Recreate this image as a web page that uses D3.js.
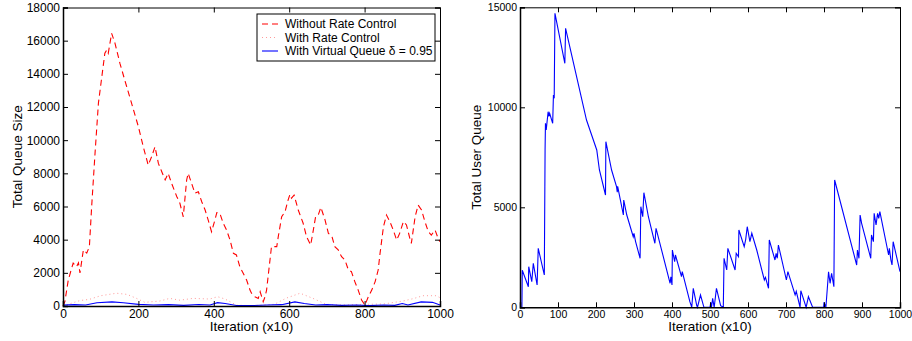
<!DOCTYPE html>
<html>
<head>
<meta charset="utf-8">
<script src="https://cdn.jsdelivr.net/npm/d3@7"></script>
<style>
  body { margin: 0; background: #fff; }
  text { font-family: "Liberation Sans", Arial, sans-serif; fill: #000; }
</style>
</head>
<body>
<svg id="chart" width="912" height="341"></svg>
<script>
// ---- data: [iteration (x10), value] ----
const withoutRateControl = [
  [0,0],[5,260],[14,1570],[27,2590],[36,2370],[41,2600],[45,1990],[54,3380],[63,3190],[70,3580],
  [76,5990],[85,9220],[94,12240],[103,13830],[111,15240],[116,15440],[120,15240],[129,16440],
  [138,15840],[151,14630],[169,13220],[182,12220],[200,10810],[213,9600],[226,8500],[235,9000],
  [244,9600],[253,8600],[262,8100],[271,7600],[279,8000],[288,7400],[302,6590],[310,6200],
  [319,5380],[328,7600],[332,8000],[341,7400],[350,6800],[359,6890],[368,6290],[377,5790],
  [385,5190],[394,4480],[403,5190],[408,5630],[416,5590],[425,4990],[434,4580],[443,3980],
  [452,3180],[460,3080],[469,2370],[478,1970],[487,1570],[496,960],[500,770],[509,560],
  [518,460],[523,860],[531,260],[536,560],[540,960],[549,2770],[553,3580],[567,3580],[571,4180],
  [580,5380],[589,5690],[597,6390],[602,6730],[606,6500],[613,6690],[624,5790],[637,4990],
  [646,4180],[657,3680],[664,4580],[670,5380],[677,5480],[684,5950],[695,5190],[704,4380],
  [713,4230],[721,3580],[730,3380],[739,2970],[748,2770],[757,2170],[765,2070],[774,1470],
  [783,960],[792,360],[801,60],[810,560],[819,960],[828,1470],[836,2170],[841,3180],[850,4780],
  [858,5490],[867,5090],[876,4580],[885,3980],[893,4380],[903,5090],[911,4890],[920,4080],
  [924,3780],[934,5380],[942,6090],[951,5790],[960,5090],[969,4480],[977,4280],[987,4580],
  [995,4080],[1000,3880]
];
const withRateControl = [
  [0,0],[20,150],[45,330],[70,400],[100,620],[142,770],[170,700],[195,460],[217,220],[257,300],
  [283,460],[310,350],[345,460],[389,420],[410,560],[430,420],[460,50],[500,20],[560,100],
  [593,480],[629,770],[663,460],[698,100],[740,60],[800,100],[850,120],[902,300],[930,450],
  [955,620],[990,620],[1000,500]
];
const withVirtualQueue = [
  [0,50],[30,80],[60,60],[90,200],[130,250],[160,200],[200,100],[240,60],[280,80],[320,40],
  [360,90],[390,60],[410,200],[430,150],[460,30],[500,20],[540,60],[580,80],[615,250],[640,150],
  [670,60],[700,80],[740,40],[780,60],[810,20],[850,60],[880,40],[900,150],[915,60],[950,250],
  [980,220],[1000,60]
];
const totalUserQueue = [
  [0,0],[5,0],[6,1850],[22,1030],[23,2030],[31,1280],[35,2200],[45,1115],[48,2950],[64,1615],
  [66,7865],[67,9200],[69,8870],[74,9780],[76,9550],[78,9700],[86,9200],[88,10615],[90,10450],
  [92,14700],[118,12200],[120,13950],[175,9365],[202,7865],[209,6865],[225,5615],[226,8280],
  [241,6865],[254,6030],[256,5750],[257,6050],[272,4615],[273,5365],[281,4615],[298,3530],
  [300,3700],[304,3300],[316,2450],[318,5030],[323,4530],[326,5730],[338,4515],[355,3200],
  [358,3950],[395,1200],[397,1530],[400,1115],[401,2865],[407,2280],[409,2615],[425,1530],
  [427,1780],[447,280],[452,0],[456,950],[465,100],[467,0],[475,615],[484,0],[500,0],[502,250],
  [504,0],[507,450],[511,0],[517,950],[528,80],[535,0],[537,2450],[544,1865],[547,2950],
  [566,1865],[569,2700],[575,2530],[576,3865],[590,3030],[594,3400],[598,4030],[605,3280],
  [610,3700],[623,2865],[643,1365],[646,1500],[654,950],[656,3365],[671,2365],[674,2700],
  [677,2450],[680,3115],[701,1365],[705,1780],[724,615],[727,800],[737,0],[739,830],[753,0],
  [759,530],[770,0],[799,0],[800,250],[805,0],[812,1780],[816,1200],[820,1700],[826,1030],
  [828,6365],[886,2115],[888,2865],[892,2450],[895,4615],[899,4200],[923,2450],[925,3615],
  [930,3280],[932,4700],[937,4115],[941,4700],[944,4450],[947,4780],[970,2615],[972,2950],
  [976,2365],[979,2115],[982,3280],[1000,1780]
];

const leftYTicks = [0,2000,4000,6000,8000,10000,12000,14000,16000,18000];
const leftXTicks = [0,200,400,600,800,1000];
const rightYTicks = [0,5000,10000,15000];
const rightXTicks = [0,100,200,300,400,500,600,700,800,900,1000];

const legendNames = ["Without Rate Control", "With Rate Control", "With Virtual Queue \u03b4 = 0.95"];

const svg = d3.select("#chart");

function drawPanel(opt) {
  const x = d3.scaleLinear().domain([0, 1000]).range([opt.x0, opt.x1]);
  const y = d3.scaleLinear().domain([0, opt.yMax]).range([opt.y1, opt.y0]);
  const g = svg.append("g");

  g.append("rect")
    .attr("x", opt.x0).attr("y", opt.y0)
    .attr("width", opt.x1 - opt.x0).attr("height", opt.y1 - opt.y0)
    .attr("fill", "#fff");

  // series
  const line = d3.line().x(d => x(d[0])).y(d => y(d[1]));
  opt.series.forEach(s => {
    g.append("path")
      .datum(s.data)
      .attr("d", line)
      .attr("fill", "none")
      .attr("stroke", s.color)
      .attr("stroke-width", s.width)
      .attr("stroke-dasharray", s.dash || null);
  });

  // axes, ticks point inward like matlab
  const fmt = d3.format("d");
  const fs = opt.fontSize + "px";
  const bottom = g.append("g").attr("transform", "translate(0," + opt.y1 + ")")
    .call(d3.axisBottom(x).tickValues(opt.xTicks).tickSize(-5).tickPadding(3).tickFormat(fmt));
  const left = g.append("g").attr("transform", "translate(" + opt.x0 + ",0)")
    .call(d3.axisLeft(y).tickValues(opt.yTicks).tickSize(-5).tickPadding(3).tickFormat(fmt));
  const top = g.append("g").attr("transform", "translate(0," + opt.y0 + ")")
    .call(d3.axisTop(x).tickValues(opt.xTicks).tickSize(-5).tickFormat(""));
  const right = g.append("g").attr("transform", "translate(" + opt.x1 + ",0)")
    .call(d3.axisRight(y).tickValues(opt.yTicks).tickSize(-5).tickFormat(""));

  [bottom, left, top, right].forEach(a => {
    a.selectAll("text").style("font-size", fs).style("font-family", "Liberation Sans, Arial, sans-serif");
    a.selectAll("line").attr("stroke", "#000");
    a.select(".domain").attr("stroke", "#000");
  });
  bottom.select(".domain").attr("stroke-width", 1.5);
  left.select(".domain").attr("stroke-width", 1.5);

  g.append("text")
    .attr("x", (opt.x0 + opt.x1) / 2)
    .attr("y", 331)
    .attr("text-anchor", "middle")
    .style("font-size", "13.5px")
    .text("Iteration (x10)");
  g.append("text")
    .attr("transform", "translate(" + opt.titleX + "," + ((opt.y0 + opt.y1) / 2) + ") rotate(-90)")
    .attr("text-anchor", "middle")
    .style("font-size", "13.5px")
    .text(opt.yTitle);
}

const leftSeries = [
  { data: withoutRateControl, color: "#ff0000", width: 1.1, dash: "6,4" },
  { data: withRateControl, color: "#ff9a9a", width: 1, dash: "1,3" },
  { data: withVirtualQueue, color: "#0000ff", width: 1.1 }
];

drawPanel({
  x0: 63, x1: 440, y0: 7.5, y1: 306, yMax: 18000,
  xTicks: leftXTicks, yTicks: leftYTicks, fontSize: 12,
  yTitle: "Total Queue Size", titleX: 22,
  series: leftSeries
});

drawPanel({
  x0: 520, x1: 900, y0: 7.3, y1: 307.3, yMax: 15000,
  xTicks: rightXTicks, yTicks: rightYTicks, fontSize: 10.5,
  yTitle: "Total User Queue", titleX: 481,
  series: [{ data: totalUserQueue, color: "#0000ff", width: 1.1 }]
});

// legend box in the left panel
const legend = svg.append("g");
legend.append("rect")
  .attr("x", 257).attr("y", 14).attr("width", 178).attr("height", 47)
  .attr("fill", "#fff").attr("stroke", "#000").attr("stroke-width", 1);
const legendY = [24, 37.5, 51];
leftSeries.forEach((s, i) => {
  legend.append("line")
    .attr("x1", 262).attr("x2", 278)
    .attr("y1", legendY[i]).attr("y2", legendY[i])
    .attr("stroke", s.color).attr("stroke-width", s.width)
    .attr("stroke-dasharray", s.dash || null);
  legend.append("text")
    .attr("x", 285).attr("y", legendY[i] + 4.2)
    .style("font-size", "12px")
    .text(legendNames[i]);
});
</script>
</body>
</html>
